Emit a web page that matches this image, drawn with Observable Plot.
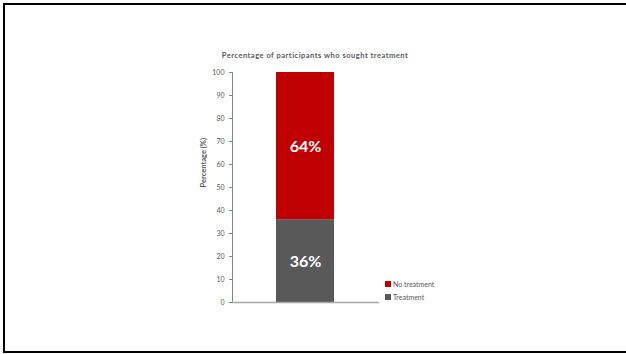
<!DOCTYPE html>
<html>
<head>
<meta charset="utf-8">
<script src="https://cdn.jsdelivr.net/npm/d3@7"></script>
<script src="https://cdn.jsdelivr.net/npm/@observablehq/plot@0.6"></script>
<style>
  html, body { margin: 0; padding: 0; background: #fff; overflow: hidden; }
  #wrap { position: relative; width: 626px; height: 354px; overflow: hidden; font-family: Lato, "Open Sans", sans-serif; }
  #frame { position: absolute; left: 3px; top: 3px; width: 640px; height: 346px;
           border-left: 2px solid #000; border-top: 2px solid #000; border-bottom: 2px solid #000; box-sizing: content-box; }
  #title { position: absolute; top: 51px; left: 165px; width: 300px; text-align: center;
           font-size: 7.5px; font-weight: bold; color: #595959; letter-spacing: 0.5px; }
  #legend { position: absolute; left: 385px; top: 277px; font-size: 7px; color: #595959; }
  #legend div { display: flex; align-items: center; height: 13px; }
  #legend span.sw { display: inline-block; width: 6px; height: 6px; margin-right: 2px; }
  #chart { position: absolute; left: 0; top: 0; }
</style>
</head>
<body>
<div id="wrap">
  <div id="frame"></div>
  <div id="chart"></div>
  <div id="title">Percentage of participants who sought treatment</div>
  <div id="legend"></div>
</div>
<script>
// Share of participants by whether they sought treatment
const groups = ["Treatment", "No treatment"];
const shares = [36, 64];
const colors = ["#595959", "#C00000"];
const yTicks = [0, 10, 20, 30, 40, 50, 60, 70, 80, 90, 100];
const column = "Participants";

const rows = groups.map((g, i) => ({ column, group: g, value: shares[i] }));

const chart = Plot.plot({
  width: 626,
  height: 354,
  marginLeft: 232,
  marginRight: 248,
  marginTop: 72,
  marginBottom: 52,
  style: { background: "transparent", fontFamily: "Lato, 'Open Sans', sans-serif" },
  x: { domain: [column], padding: 0.431, axis: null },
  y: { domain: [0, 100] },
  color: { domain: groups, range: colors },
  marks: [
    Plot.barY(rows, Plot.stackY({ x: "column", y: "value", fill: "group", z: "group", order: groups })),
    Plot.text(rows, Plot.stackY({
      x: "column", y: "value", z: "group", order: groups,
      text: d => d.value + "%",
      fill: "white", fontSize: 16, fontWeight: "bold", dy: 1
    })),
    Plot.frame({ anchor: "left", stroke: "#868686" }),
    Plot.frame({ anchor: "bottom", stroke: "#a6a6a6", strokeWidth: 1.5 }),
    Plot.axisY({
      ticks: yTicks, tickSize: 3, tickPadding: 5, tickFormat: d => String(d),
      fontSize: 7, color: "#595959", stroke: "#868686", label: null
    }),
    Plot.text(["Percentage (%)"], {
      frameAnchor: "left", dx: -29, rotate: -90,
      fontSize: 7.5, fontWeight: "bold", fill: "#595959"
    })
  ]
});
document.getElementById("chart").appendChild(chart);

// Legend, listed top to bottom in stack order (top segment first)
const legend = document.getElementById("legend");
groups.slice().reverse().forEach(g => {
  const row = document.createElement("div");
  const sw = document.createElement("span");
  sw.className = "sw";
  sw.style.background = colors[groups.indexOf(g)];
  row.appendChild(sw);
  row.appendChild(document.createTextNode(g));
  legend.appendChild(row);
});
</script>
</body>
</html>
